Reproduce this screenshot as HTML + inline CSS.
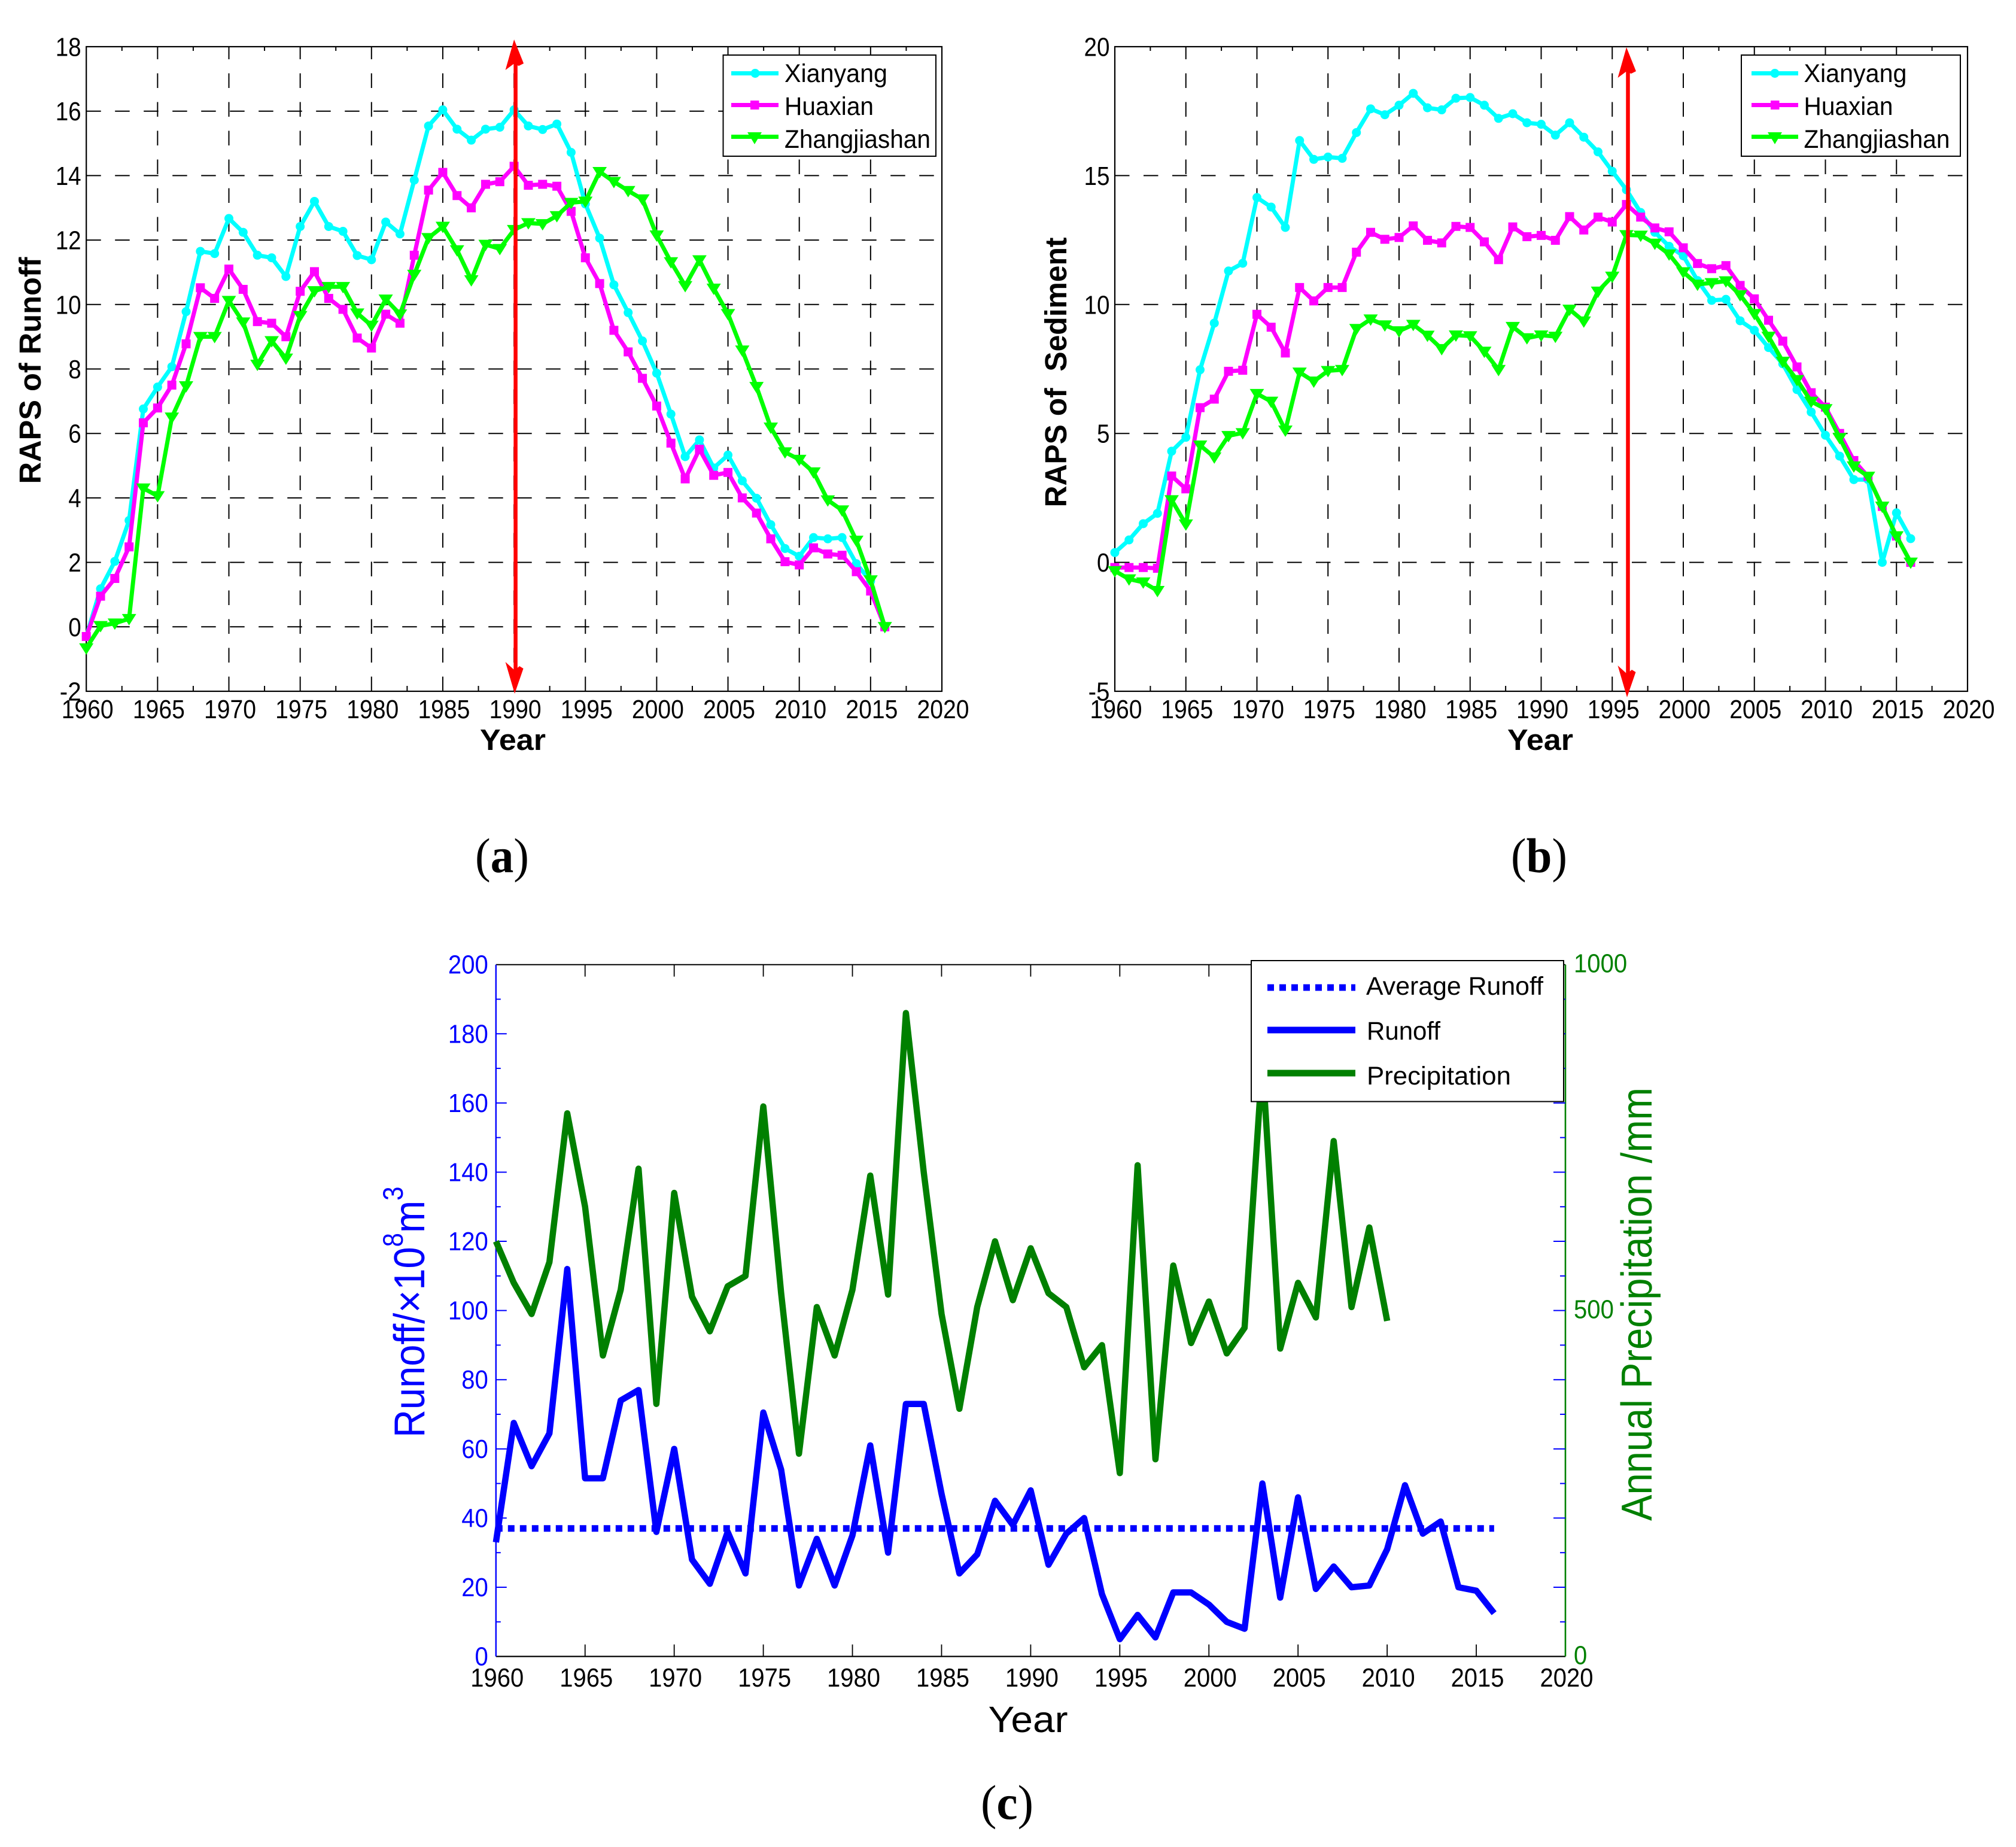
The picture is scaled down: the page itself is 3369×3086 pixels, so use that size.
<!DOCTYPE html>
<html lang="en">
<head>
<meta charset="utf-8">
<title>RAPS of runoff and sediment, with annual runoff and precipitation</title>
<style>
html,body{margin:0;padding:0;background:#fff;}
svg{display:block;font-family:"Liberation Sans",Arial,sans-serif;}
text{white-space:pre;}
.serif{font-family:"Liberation Serif","Times New Roman",serif;}
</style>
</head>
<body>
<svg id="figure" xmlns="http://www.w3.org/2000/svg" width="3369" height="3086" viewBox="0 0 3369 3086">
  <rect x="0" y="0" width="3369" height="3086" fill="#ffffff"/>

  <g id="panel-a">
    <g id="a-axes"></g>
    <g id="a-marks"></g>
    <g id="a-arrow"></g>
    <text transform="translate(68,619) rotate(-90)" text-anchor="middle" font-size="51" font-weight="bold" textLength="379" lengthAdjust="spacingAndGlyphs">RAPS of Runoff</text>
    <text x="857" y="1253" text-anchor="middle" font-size="49" font-weight="bold" textLength="110" lengthAdjust="spacingAndGlyphs">Year</text>
    <g>
      <rect x="1208.5" y="92" width="355.5" height="169" fill="#fff" stroke="#000" stroke-width="2"/>
      <g>
        <line x1="1222" x2="1301" y1="122.5" y2="122.5" stroke="#00ffff" stroke-width="7"/>
        <circle cx="1262" cy="122.5" r="7.5" fill="#00ffff"/>
        <text x="1311" y="137" font-size="42.5" textLength="172" lengthAdjust="spacingAndGlyphs">Xianyang</text>
      </g>
      <g>
        <line x1="1222" x2="1301" y1="175.5" y2="175.5" stroke="#ff00ff" stroke-width="7"/>
        <rect x="1254" y="168" width="14.5" height="15" fill="#ff00ff"/>
        <text x="1311" y="192" font-size="42.5" textLength="149" lengthAdjust="spacingAndGlyphs">Huaxian</text>
      </g>
      <g>
        <line x1="1222" x2="1301" y1="228.5" y2="228.5" stroke="#00ff00" stroke-width="7"/>
        <polygon points="1249,221 1273,221 1261,241" fill="#00ff00"/>
        <text x="1311" y="247" font-size="42.5" textLength="244" lengthAdjust="spacingAndGlyphs">Zhangjiashan</text>
      </g>
    </g>
    <text class="serif" x="839" y="1457" text-anchor="middle" font-size="82" textLength="90" lengthAdjust="spacingAndGlyphs">(<tspan font-weight="bold">a</tspan>)</text>
  </g>

  <g id="panel-b">
    <g id="b-axes"></g>
    <g id="b-marks"></g>
    <g id="b-arrow"></g>
    <text transform="translate(1782,622) rotate(-90)" text-anchor="middle" font-size="51" font-weight="bold" textLength="451" lengthAdjust="spacingAndGlyphs">RAPS of  Sediment</text>
    <text x="2574" y="1253" text-anchor="middle" font-size="49" font-weight="bold" textLength="110" lengthAdjust="spacingAndGlyphs">Year</text>
    <g>
      <rect x="2910" y="92" width="366" height="169" fill="#fff" stroke="#000" stroke-width="2"/>
      <g>
        <line x1="2927" x2="3005" y1="122.5" y2="122.5" stroke="#00ffff" stroke-width="7"/>
        <circle cx="2966" cy="122.5" r="7.5" fill="#00ffff"/>
        <text x="3014.5" y="137" font-size="42.5" textLength="172" lengthAdjust="spacingAndGlyphs">Xianyang</text>
      </g>
      <g>
        <line x1="2927" x2="3005" y1="175.5" y2="175.5" stroke="#ff00ff" stroke-width="7"/>
        <rect x="2959" y="168" width="14.5" height="15" fill="#ff00ff"/>
        <text x="3014.5" y="192" font-size="42.5" textLength="149" lengthAdjust="spacingAndGlyphs">Huaxian</text>
      </g>
      <g>
        <line x1="2927" x2="3005" y1="228.5" y2="228.5" stroke="#00ff00" stroke-width="7"/>
        <polygon points="2954,221 2978,221 2966,241" fill="#00ff00"/>
        <text x="3014.5" y="247" font-size="42.5" textLength="244" lengthAdjust="spacingAndGlyphs">Zhangjiashan</text>
      </g>
    </g>
    <text class="serif" x="2572" y="1457" text-anchor="middle" font-size="82" textLength="94" lengthAdjust="spacingAndGlyphs">(<tspan font-weight="bold">b</tspan>)</text>
  </g>

  <g id="panel-c">
    <g id="c-axes"></g>
    <g id="c-marks"></g>
    <text transform="translate(709,2402) rotate(-90) scale(1,1.12)" font-size="65" fill="#0000ff">Runoff/×10<tspan font-size="42" dy="-32">8</tspan><tspan dy="32">m</tspan><tspan font-size="42" dy="-32">3</tspan></text>
    <text transform="translate(2760,2179) rotate(-90) scale(1,1.12)" text-anchor="middle" font-size="65" fill="#008000" textLength="724" lengthAdjust="spacingAndGlyphs">Annual Precipitation /mm</text>
    <text x="1718" y="2894" text-anchor="middle" font-size="61" textLength="133" lengthAdjust="spacingAndGlyphs">Year</text>
    <g>
      <rect x="2091" y="1605" width="522" height="235.5" fill="#fff" stroke="#000" stroke-width="2"/>
      <g>
        <line x1="2118" x2="2265" y1="1650" y2="1650" stroke="#0000ff" stroke-width="11" stroke-dasharray="11 9"/>
        <text x="2283" y="1662" font-size="43" textLength="296" lengthAdjust="spacingAndGlyphs">Average Runoff</text>
      </g>
      <g>
        <line x1="2118" x2="2265" y1="1721" y2="1721" stroke="#0000ff" stroke-width="11"/>
        <text x="2284" y="1737" font-size="43" textLength="123" lengthAdjust="spacingAndGlyphs">Runoff</text>
      </g>
      <g>
        <line x1="2118" x2="2265" y1="1793" y2="1793" stroke="#008000" stroke-width="11"/>
        <text x="2284" y="1812" font-size="43" textLength="241" lengthAdjust="spacingAndGlyphs">Precipitation</text>
      </g>
    </g>
    <text class="serif" x="1683" y="3039" text-anchor="middle" font-size="82" textLength="88" lengthAdjust="spacingAndGlyphs">(<tspan font-weight="bold">c</tspan>)</text>
  </g>
</svg>

<script>
// ---------- chart data ----------
const years = [1960,1961,1962,1963,1964,1965,1966,1967,1968,1969,1970,1971,1972,1973,1974,1975,1976,1977,1978,1979,1980,1981,1982,1983,1984,1985,1986,1987,1988,1989,1990,1991,1992,1993,1994,1995,1996,1997,1998,1999,2000,2001,2002,2003,2004,2005,2006,2007,2008,2009,2010,2011,2012,2013,2014,2015,2016];

const xianyangRunoff = [-0.3,1.18,2.03,3.3,6.76,7.44,8.07,9.78,11.65,11.58,12.67,12.24,11.53,11.45,10.87,12.42,13.2,12.42,12.27,11.52,11.39,12.56,12.19,13.86,15.54,16.04,15.44,15.1,15.44,15.5,16.04,15.54,15.43,15.6,14.72,13.12,12.06,10.61,9.75,8.87,7.87,6.6,5.28,5.8,4.93,5.33,4.53,3.99,3.17,2.43,2.19,2.77,2.73,2.77,1.96,1.42,0];
const huaxianRunoff = [-0.3,0.95,1.5,2.48,6.33,6.79,7.5,8.78,10.52,10.19,11.1,10.47,9.47,9.42,9.0,10.41,11.02,10.19,9.85,8.96,8.65,9.7,9.42,11.53,13.55,14.1,13.38,13.0,13.73,13.81,14.29,13.7,13.73,13.67,12.89,11.45,10.65,9.2,8.53,7.71,6.85,5.7,4.59,5.51,4.7,4.79,4.0,3.53,2.73,2.02,1.92,2.45,2.26,2.22,1.71,1.11,0];
const zhangjiashanRunoff = [-0.66,0.03,0.11,0.25,4.3,4.06,6.5,7.47,9.0,9.0,10.12,9.45,8.14,8.87,8.33,9.65,10.42,10.55,10.55,9.73,9.35,10.16,9.7,10.93,12.07,12.42,11.69,10.76,11.86,11.73,12.32,12.53,12.5,12.75,13.16,13.2,14.12,13.81,13.53,13.27,12.15,11.32,10.58,11.38,10.5,9.71,8.58,7.45,6.19,5.42,5.19,4.8,3.93,3.62,2.68,1.45,0];

const xianyangSediment = [0.38,0.87,1.5,1.9,4.31,4.85,7.47,9.28,11.3,11.6,14.15,13.78,12.99,16.36,15.63,15.72,15.67,16.67,17.59,17.36,17.73,18.19,17.63,17.55,18.0,18.03,17.73,17.22,17.4,17.05,16.99,16.57,17.05,16.49,15.92,15.17,14.45,13.57,12.8,12.26,11.89,10.93,10.16,10.2,9.37,9.0,8.33,7.7,6.7,5.83,4.93,4.12,3.21,3.21,0.0,1.92,0.92];
const huaxianSediment = [-0.2,-0.2,-0.2,-0.23,3.35,2.85,6.0,6.33,7.41,7.45,9.62,9.12,8.12,10.66,10.14,10.66,10.66,12.03,12.8,12.53,12.6,13.05,12.49,12.39,13.03,12.99,12.43,11.74,13.01,12.63,12.68,12.49,13.41,12.89,13.39,13.2,13.88,13.39,12.97,12.82,12.2,11.59,11.39,11.51,10.74,10.22,9.39,8.58,7.58,6.58,6.02,5.0,3.95,3.33,2.17,1.02,0];
const zhangjiashanSediment = [-0.33,-0.65,-0.77,-1.1,2.42,1.48,4.54,4.08,4.91,5.02,6.54,6.24,5.12,7.37,7.02,7.43,7.47,9.06,9.43,9.2,8.97,9.22,8.8,8.28,8.81,8.78,8.18,7.47,9.14,8.7,8.81,8.76,9.81,9.35,10.51,11.09,12.7,12.68,12.37,11.95,11.26,10.78,10.84,10.91,10.37,9.64,8.76,7.79,7.08,6.24,5.95,4.83,3.73,3.33,2.17,1.02,0];

const annualRunoff = [33,67.5,55,64.5,112,51.5,51.5,74,77,36,60,28,21,36,24,70.5,54,20.5,34,20.5,35,61,30,73,73,47,24,29.5,45,38,48,26.5,35.5,40,18,5,12,5.5,18.5,18.5,15,10,8,50,17,46,19.5,26,20,20.5,31,49.5,35.5,39,20,19,12.5];
const annualPrecipitation = [600,540,495,570,785,650,435,530,705,365,670,520,470,535,550,795,525,293,505,435,530,695,523,930,700,495,358,505,600,515,590,525,505,418,450,265,710,285,565,453,513,438,475,860,445,540,490,745,505,620,485];
const averageRunoff = [37,37];
const averageRunoffYears = [1960,2016];

const xTickLabels = [1960,1965,1970,1975,1980,1985,1990,1995,2000,2005,2010,2015,2020];
const runoffRapsTicks = [-2,0,2,4,6,8,10,12,14,16,18];
const sedimentRapsTicks = [-5,0,5,10,15,20];
const leftRunoffTicks = [0,20,40,60,80,100,120,140,160,180,200];
const rightPrecipTicks = [0,500,1000];
const changeYearRunoff = 1990;
const changeYearSediment = 1996;

// ---------- helpers ----------
const NS = 'http://www.w3.org/2000/svg';
function mk(parent, tag, attrs, txt) {
  const el = document.createElementNS(NS, tag);
  for (const k in attrs) el.setAttribute(k, attrs[k]);
  if (txt !== undefined) el.textContent = txt;
  parent.appendChild(el);
  return el;
}
function scale(d0, d1, r0, r1) {
  return v => r0 + (v - d0) * (r1 - r0) / (d1 - d0);
}
// condensed label width: digits run narrow in the reference
function labelWidth(str, digitW) {
  let w = 0;
  for (const ch of str) w += ch === '-' ? digitW * 0.67 : digitW;
  return w;
}

// ---------- RAPS panels (a, b) ----------
function drawRapsPanel(axesId, marksId, arrowId, box, yTicks, seriesList, changeYear, arrowTop, arrowBottom) {
  const axes = document.getElementById(axesId);
  const marks = document.getElementById(marksId);
  const arrowG = document.getElementById(arrowId);
  const x = scale(1960, 2020, box.left, box.right);
  const y = scale(yTicks[0], yTicks[yTicks.length - 1], box.bottom, box.top);

  // vertical grid, dashes running upward from the bottom axis
  xTickLabels.forEach(t => {
    if (t !== 1960 && t !== 2020) {
      const g = mk(axes, 'line', {x1: x(t), x2: x(t), y1: box.bottom, y2: box.top, stroke: '#000', 'stroke-width': 2, 'stroke-dasharray': '24.5 23.5'});
      
      
    }
    const lab = mk(axes, 'text', {x: x(t) + 2, y: 1200, 'text-anchor': 'middle', 'font-size': 43.5, textLength: 87, lengthAdjust: 'spacingAndGlyphs'}, String(t));
    
    
    if (t !== 2020) {
      const mid = t + 2.5;
      const m1 = mk(axes, 'line', {x1: x(mid), x2: x(mid), y1: box.bottom, y2: box.bottom - 9, stroke: '#000', 'stroke-width': 2});
      
      
      const m2 = mk(axes, 'line', {x1: x(mid), x2: x(mid), y1: box.top, y2: box.top + 7, stroke: '#000', 'stroke-width': 2});
      
      
    }
  });

  // horizontal grid and y tick labels
  yTicks.forEach((t, i) => {
    if (i !== 0 && i !== yTicks.length - 1) {
      const g = mk(axes, 'line', {x1: box.left, x2: box.right, y1: y(t), y2: y(t), stroke: '#000', 'stroke-width': 2, 'stroke-dasharray': '24.5 23.5'});
      
      
    }
    const lab = mk(axes, 'text', {x: box.left - 8.5, y: y(t) + 15.5, 'text-anchor': 'end', 'font-size': 43.5, textLength: labelWidth(String(t), 21.5), lengthAdjust: 'spacingAndGlyphs'}, String(t));
    
    
  });

  const frame = mk(axes, 'rect', {x: box.left, y: box.top, width: box.right - box.left, height: box.bottom - box.top, fill: 'none', stroke: '#000', 'stroke-width': 2.2});
  
  

  // series
  seriesList.forEach(s => {
    const pts = s.values.map((v, i) => x(years[i]) + ',' + y(v)).join(' ');
    const line = mk(marks, 'polyline', {points: pts, fill: 'none', stroke: s.color, 'stroke-width': 7, 'stroke-linejoin': 'round'});
    
    
    s.values.forEach((v, i) => {
      const cx = x(years[i]), cy = y(v);
      let mark;
      if (s.marker === 'circle') {
        mark = mk(marks, 'circle', {cx: cx, cy: cy, r: 7.5, fill: s.color});
      } else if (s.marker === 'square') {
        mark = mk(marks, 'rect', {x: cx - 7.5, y: cy - 7.5, width: 15, height: 15, fill: s.color});
      } else {
        mark = mk(marks, 'polygon', {points: (cx - 12) + ',' + (cy - 8) + ' ' + (cx + 12) + ',' + (cy - 8) + ' ' + cx + ',' + (cy + 11), fill: s.color});
      }
      
      
    });
  });

  // double-headed change-point arrow (skewed heads as in the reference)
  const ax = x(changeYear);
  const shaft = mk(arrowG, 'line', {x1: ax + 2.5, x2: ax + 2.5, y1: arrowTop + 30, y2: arrowBottom - 30, stroke: '#ff0000', 'stroke-width': 6.5});
  
  
  const headUp = mk(arrowG, 'polygon', {fill: '#ff0000', points: ax + ',' + arrowTop + ' ' + (ax + 16) + ',' + (arrowTop + 40) + ' ' + (ax + 8) + ',' + (arrowTop + 44) + ' ' + (ax - 1) + ',' + (arrowTop + 41) + ' ' + (ax - 14.5) + ',' + (arrowTop + 51)});
  
  
  const headDown = mk(arrowG, 'polygon', {fill: '#ff0000', points: (ax + 1) + ',' + arrowBottom + ' ' + (ax - 14.5) + ',' + (arrowBottom - 53) + ' ' + (ax + 1) + ',' + (arrowBottom - 39) + ' ' + (ax + 9) + ',' + (arrowBottom - 46) + ' ' + (ax + 15.5) + ',' + (arrowBottom - 42)});
  
  
}

drawRapsPanel('a-axes', 'a-marks', 'a-arrow', {left: 144.2, right: 1574, top: 78, bottom: 1155}, runoffRapsTicks, [
  {key: 'xianyang', values: xianyangRunoff, color: '#00ffff', marker: 'circle'},
  {key: 'huaxian', values: huaxianRunoff, color: '#ff00ff', marker: 'square'},
  {key: 'zhangjiashan', values: zhangjiashanRunoff, color: '#00ff00', marker: 'triangle'}
], changeYearRunoff, 66, 1159);

drawRapsPanel('b-axes', 'b-marks', 'b-arrow', {left: 1863, right: 3288, top: 78, bottom: 1155}, sedimentRapsTicks, [
  {key: 'xianyang', values: xianyangSediment, color: '#00ffff', marker: 'circle'},
  {key: 'huaxian', values: huaxianSediment, color: '#ff00ff', marker: 'square'},
  {key: 'zhangjiashan', values: zhangjiashanSediment, color: '#00ff00', marker: 'triangle'}
], changeYearSediment, 79, 1165);

// ---------- Panel c ----------
(function () {
  const axes = document.getElementById('c-axes');
  const marks = document.getElementById('c-marks');
  const box = {left: 828.8, right: 2616, top: 1611.7, bottom: 2767.6};
  const x = scale(1960, 2020, box.left, box.right);
  const yL = scale(0, 200, box.bottom, box.top);
  const yR = scale(0, 1000, box.bottom, box.top);

  const top = mk(axes, 'line', {x1: box.left, x2: box.right, y1: box.top, y2: box.top, stroke: '#000', 'stroke-width': 2});
  
  
  const bottom = mk(axes, 'line', {x1: box.left, x2: box.right, y1: box.bottom, y2: box.bottom, stroke: '#000', 'stroke-width': 2.2});
  
  
  const left = mk(axes, 'line', {x1: box.left, x2: box.left, y1: box.top, y2: box.bottom, stroke: '#0000ff', 'stroke-width': 2.4});
  
  
  const right = mk(axes, 'line', {x1: box.right, x2: box.right, y1: box.top, y2: box.bottom, stroke: '#008000', 'stroke-width': 2.6});
  
  

  xTickLabels.forEach(t => {
    if (t !== 1960 && t !== 2020) {
      const b = mk(axes, 'line', {x1: x(t), x2: x(t), y1: box.bottom, y2: box.bottom - 20, stroke: '#000', 'stroke-width': 1.8});
      
      
      const u = mk(axes, 'line', {x1: x(t), x2: x(t), y1: box.top, y2: box.top + 20, stroke: '#000', 'stroke-width': 1.8});
      
      
    }
    const lab = mk(axes, 'text', {x: x(t) + 2, y: 2818, 'text-anchor': 'middle', 'font-size': 44, textLength: 89, lengthAdjust: 'spacingAndGlyphs'}, String(t));
    
    
  });

  leftRunoffTicks.forEach((t, i) => {
    const lab = mk(axes, 'text', {x: box.left - 13, y: yL(t) + 15, 'text-anchor': 'end', 'font-size': 44, fill: '#0000ff', textLength: labelWidth(String(t), 22.3), lengthAdjust: 'spacingAndGlyphs'}, String(t));
    
    
    if (i > 0 && i < leftRunoffTicks.length - 1) {
      const l = mk(axes, 'line', {x1: box.left, x2: box.left + 18, y1: yL(t), y2: yL(t), stroke: '#0000ff', 'stroke-width': 2});
      
      
      const r = mk(axes, 'line', {x1: box.right, x2: box.right - 20, y1: yL(t), y2: yL(t), stroke: '#0000ff', 'stroke-width': 2});
      
      
    }
    if (i < leftRunoffTicks.length - 1) {
      const mid = t + (leftRunoffTicks[i + 1] - t) / 2;
      const lm = mk(axes, 'line', {x1: box.left, x2: box.left + 8, y1: yL(mid), y2: yL(mid), stroke: '#0000ff', 'stroke-width': 2});
      
      
      const rm = mk(axes, 'line', {x1: box.right, x2: box.right - 9, y1: yL(mid), y2: yL(mid), stroke: '#0000ff', 'stroke-width': 2});
      
      
    }
  });

  rightPrecipTicks.forEach(t => {
    const lab = mk(axes, 'text', {x: box.right + 14, y: yR(t) + 13, 'font-size': 44, fill: '#008000', textLength: labelWidth(String(t), 22.3), lengthAdjust: 'spacingAndGlyphs'}, String(t));
    
    
  });

  const avg = mk(marks, 'polyline', {points: averageRunoffYears.map((yr, i) => x(yr) + ',' + yL(averageRunoff[i])).join(' '), fill: 'none', stroke: '#0000ff', 'stroke-width': 11, 'stroke-dasharray': '11 9'});
  
  

  const runoff = mk(marks, 'polyline', {points: annualRunoff.map((v, i) => x(years[i]) + ',' + yL(v)).join(' '), fill: 'none', stroke: '#0000ff', 'stroke-width': 10.5, 'stroke-linejoin': 'round'});
  
  

  const precip = mk(marks, 'polyline', {points: annualPrecipitation.map((v, i) => x(years[i]) + ',' + yR(v)).join(' '), fill: 'none', stroke: '#008000', 'stroke-width': 10.5, 'stroke-linejoin': 'round'});
  
  
})();
</script>
</body>
</html>
